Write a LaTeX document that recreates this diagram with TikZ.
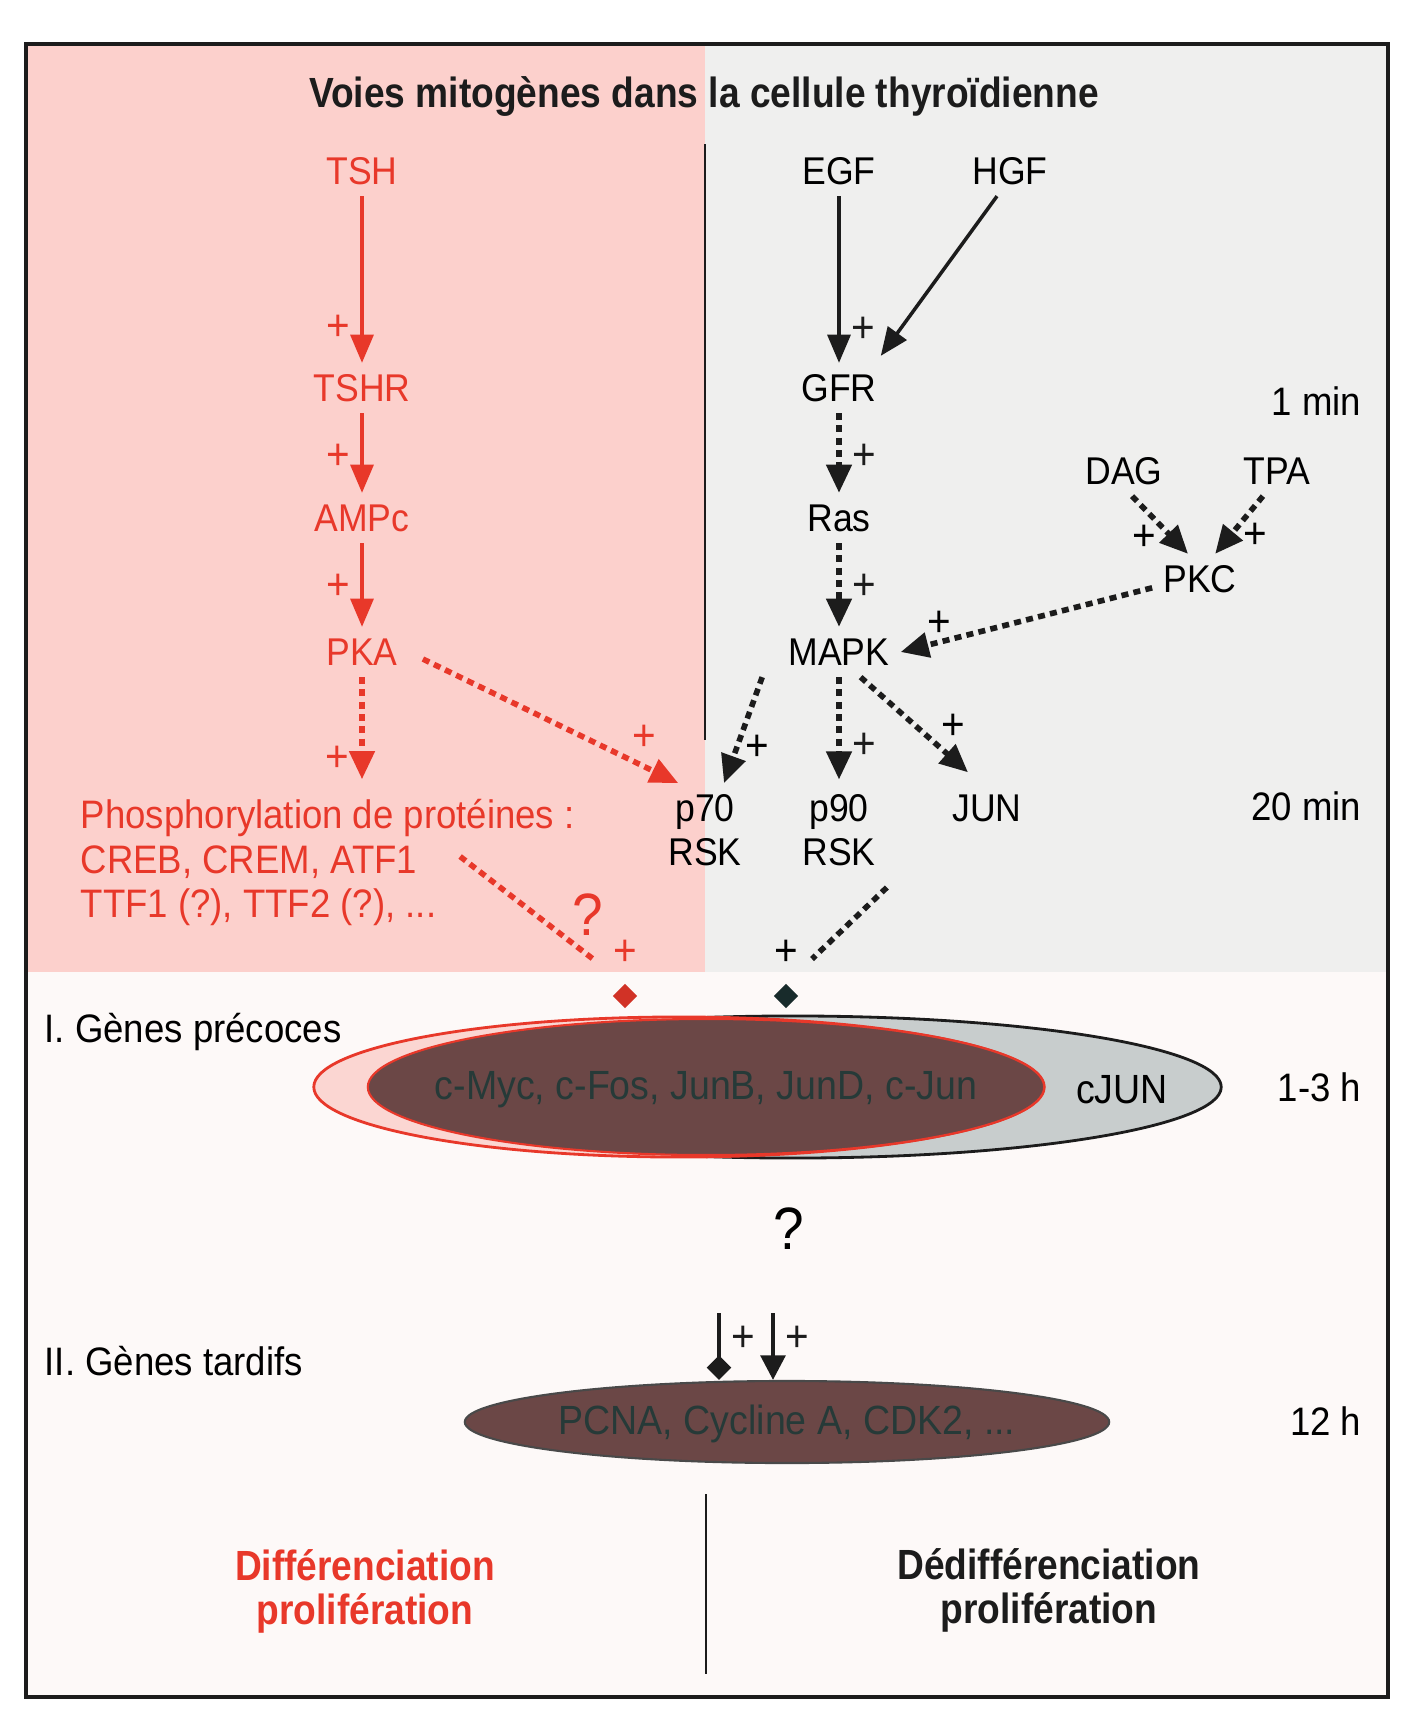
\documentclass[tikz,border=0pt]{standalone}
\usepackage{fontspec}
\setmainfont{Liberation Sans}[FakeStretch=0.92]
\newfontfamily\condsans[FakeStretch=0.88]{Liberation Sans}
\usetikzlibrary{arrows.meta, shapes.geometric, positioning}
\definecolor{thyrRed}  {RGB}{232, 56, 42}
\definecolor{thyrPink} {RGB}{252,208,204}
\definecolor{thyrGrey} {RGB}{239,239,238}
\definecolor{thyrPaper}{RGB}{253,249,248}
\definecolor{geneBrown}{RGB}{107, 71, 70}
\definecolor{geneInk}  {RGB}{ 38, 58, 56}
\definecolor{geneGrey} {RGB}{200,205,205}
\definecolor{genePink} {RGB}{251,214,210}
\definecolor{inkBlack} {RGB}{ 28, 28, 28}

\begin{document}
\begin{tikzpicture}[
  x=0.01cm, y=-0.01cm,
  %% Molecule names
  mol/.style={font=\fontsize{11}{12.5}\selectfont, inner sep=3pt,
    text height=7.9pt, text depth=0pt},
  %% Two-line kinase names
  kin/.style={font=\fontsize{11}{12.5}\selectfont, inner sep=3pt, align=center},
  %% Free text (sections, times, phosphorylation)
  lbl/.style={font=\fontsize{11.3}{12.5}\selectfont, inner sep=0pt,
    text height=7.9pt, text depth=0pt},
  %% Plus sign on arrows
  pls/.style={font=\fontsize{12.5}{13}\selectfont, inner sep=1pt},
  %% Question mark
  qst/.style={font=\fontsize{17}{18}\selectfont, inner sep=0pt},
  %% Solid activation arrow
  sarr/.style={-{Triangle[length=8pt,width=6.5pt]}, line width=1pt},
  %% Dotted activation arrow
  darr/.style={-{Triangle[length=8pt,width=7pt]}, line width=1.6pt,
    dash pattern=on 2pt off 1.5pt},
  %% Dotted link without head
  dlink/.style={line width=1.6pt, dash pattern=on 2pt off 1.5pt},
  %% Diamond marker
  dmd/.style={diamond, minimum size=0.25cm, inner sep=0pt},
  %% Bold condensed heading
  hd/.style={font=\condsans\bfseries\fontsize{12}{12.5}\selectfont, align=center},
  %% Gene ellipse
  gene/.style={ellipse, inner sep=0pt},
  %% Gene names
  gtxt/.style={font=\fontsize{11.6}{12.5}\selectfont, inner sep=0pt},
]

%% ── Columns ────────────────────────────────────────────────────────────────
\def\xL{362}   % TSH pathway
\def\xR{839}   % growth factor pathway

\useasboundingbox (0,0) rectangle (1420,1733);

%% ── PANELS ─────────────────────────────────────────────────────────────────
\fill[white] (0,0) rectangle (1420,1733);
\fill[thyrPaper] (26,972) rectangle (1388,1697);
\fill[thyrPink] (26,44) rectangle (705,972);
\fill[thyrGrey] (705,44) rectangle (1388,972);
\draw[inkBlack, line width=0.9pt] (26,44) rectangle (1388,1697);
\draw[inkBlack, line width=0.6pt] (705,144) -- (705,740);
\draw[inkBlack, line width=0.6pt] (706,1494) -- (706,1674);

%% ── TITLE ──────────────────────────────────────────────────────────────────
\node[hd, text=inkBlack] (title) at (704,96)
  {Voies mitogènes dans la cellule thyroïdienne};

%% ── TSH PATHWAY (red) ──────────────────────────────────────────────────────
\node[mol, text=thyrRed] (tsh)  at (\xL,171) {TSH};
\node[mol, text=thyrRed] (tshr) at (\xL,388) {TSHR};
\node[mol, text=thyrRed] (ampc) at (\xL,518) {AMPc};
\node[mol, text=thyrRed] (pka)  at (\xL,652) {PKA};
\node[lbl, text=thyrRed, anchor=west] (phos) at (80,815)
  {Phosphorylation de protéines :};
\node[lbl, text=thyrRed, anchor=west] (creb) at (80,860) {CREB, CREM, ATF1};
\node[lbl, text=thyrRed, anchor=west] (ttf)  at (80,904) {TTF1 (?), TTF2 (?), ...};

\draw[sarr, thyrRed] (tsh.south) -- (tshr.north)
  node[pls, pos=.79, left=2pt] (plTshr) {+};
\draw[sarr, thyrRed] (tshr.south) -- (ampc.north)
  node[pls, pos=.55, left=2pt] (plAmpc) {+};
\draw[sarr, thyrRed] (ampc.south) -- (pka.north)
  node[pls, pos=.52, left=2pt] (plPka) {+};
\draw[darr, thyrRed, shorten >=6pt] (pka.south) -- (pka.south |- phos.north)
  node[pls, pos=.66, left=2pt] (plPhos) {+};

%% ── GROWTH FACTOR PATHWAY (black) ──────────────────────────────────────────
\node[mol] (egf)  at (\xR,171)  {EGF};
\node[mol] (hgf)  at (1010,171) {HGF};
\node[mol] (gfr)  at (\xR,388)  {GFR};
\node[mol] (ras)  at (\xR,518)  {Ras};
\node[mol] (mapk) at (\xR,652)  {MAPK};
\node[mol] (dag)  at (1124,471) {DAG};
\node[mol] (tpa)  at (1277,471) {TPA};
\node[mol] (pkc)  at (1200,579) {PKC};
\node[kin] (p70)  at (705,830)  {p70\\RSK};
\node[kin] (p90)  at (\xR,830)  {p90\\RSK};
\node[mol] (jun)  at (987,808)  {JUN};

\draw[sarr, inkBlack] (egf.south) -- (gfr.north)
  node[pls, pos=.8, right=2pt] (plGfr) {+};
\draw[sarr, inkBlack] ([xshift=-3.7pt]hgf.south)
  -- ([xshift=-2pt,yshift=2pt]gfr.north east);
\draw[darr, inkBlack] (gfr.south) -- (ras.north)
  node[pls, pos=.55, right=2pt] (plRas) {+};
\draw[darr, inkBlack] (ras.south) -- (mapk.north)
  node[pls, pos=.52, right=2pt] (plMapk) {+};
\draw[darr, inkBlack] ([xshift=2.3pt]dag.south) -- ([xshift=-3.4pt]pkc.north);
\draw[darr, inkBlack] ([xshift=-4pt]tpa.south) -- ([xshift=4.3pt]pkc.north);
\draw[darr, inkBlack] ([yshift=-2.5pt]pkc.west) -- (mapk.east);
\draw[darr, inkBlack] ([xshift=-4.3pt]mapk.south west) -- ([xshift=5.4pt]p70.north);
\draw[darr, inkBlack, shorten >=1pt] (mapk.south) -- (p90.north)
  node[pls, pos=.65, right=2pt] (plP90) {+};
\draw[darr, inkBlack] ([xshift=-11.4pt]mapk.south east)
  -- ([xshift=-5.4pt,yshift=3pt]jun.north);
\draw[darr, thyrRed] ([xshift=4pt,yshift=-2pt]pka.east)
  -- ([xshift=6pt]p70.north west);

%% plus signs on the slanted arrows
\node[pls] (plDag)  at (1144,538) {+};
\node[pls] (plTpa)  at (1255,536) {+};
\node[pls] (plPkc)  at (939,624)  {+};
\node[pls] (plP70)  at (757,748)  {+};
\node[pls] (plJun)  at (953,727)  {+};
\node[pls, text=thyrRed] (plRsk) at (644,738) {+};

%% ── TIMES ──────────────────────────────────────────────────────────────────
\node[lbl, anchor=east] (t1)  at (1362,402)  {1 min};
\node[lbl, anchor=east] (t2)  at (1362,807)  {20 min};
\node[lbl, anchor=east] (t3)  at (1362,1088) {1-3 h};
\node[lbl, anchor=east] (t4)  at (1362,1422) {12 h};

%% ── INPUTS TO EARLY GENES ──────────────────────────────────────────────────
\node[dmd, fill=thyrRed!90!black] (rdia) at (625,996) {};
\node[dmd, fill=inkBlack!85!teal] (bdia) at (786,996) {};
\node[pls, text=thyrRed] (plRed) at (625,953) {+};
\node[pls] (plBlack) at (786,953) {+};
\node[qst, text=thyrRed] (qRed) at (588,915) {?};
\coordinate (redEnd) at (593,959);
\coordinate (blackEnd) at (812,959);
\draw[dlink, thyrRed] ([xshift=12pt,yshift=1pt]creb.east) -- (redEnd);
\draw[dlink, inkBlack] ([yshift=-3pt]p90.south east) -- (blackEnd);

%% ── EARLY GENES ────────────────────────────────────────────────────────────
\node[lbl, anchor=west] (early) at (44,1029) {I. Gènes précoces};
\node[gene, fill=geneGrey, draw=inkBlack, line width=0.8pt,
      minimum width=8.56cm, minimum height=1.42cm] (egGrey) at (793,1087) {};
\node[gene, fill=genePink, draw=thyrRed, line width=0.8pt,
      minimum width=7.30cm, minimum height=1.40cm] (egPink) at (679,1087) {};
\node[gene, fill=geneBrown, draw=thyrRed, line width=0.6pt,
      minimum width=6.76cm, minimum height=1.36cm] (egBrown) at (706,1087) {};
\node[gtxt, text=geneInk] (mycTxt) at (706,1090)
  {c-Myc, c-Fos, JunB, JunD, c-Jun};
\node[gtxt] (cjun) at (1122,1090) {cJUN};

\node[qst] (qBlack) at (789,1229) {?};

%% ── LATE GENES ─────────────────────────────────────────────────────────────
\node[lbl, anchor=west] (late) at (44,1362) {II. Gènes tardifs};
\node[gene, fill=geneBrown, draw=inkBlack!80, line width=0.6pt,
      minimum width=6.44cm, minimum height=0.82cm] (lgBrown) at (787,1422) {};
\node[gtxt, text=geneInk] (pcnaTxt) at (787,1424) {PCNA, Cycline A, CDK2, ...};

\coordinate (qa) at (719,1313);
\coordinate (qb) at (773,1313);
\draw[-{Diamond[length=7pt,width=7pt]}, line width=1.2pt, inkBlack]
  (qa) -- (qa |- lgBrown.north)
  node[pls, pos=.38, right=2pt] (plLateA) {+};
\draw[-{Triangle[length=7pt,width=7pt]}, line width=1.2pt, inkBlack]
  (qb) -- (qb |- lgBrown.north)
  node[pls, pos=.38, right=2pt] (plLateB) {+};

%% ── OUTCOMES ───────────────────────────────────────────────────────────────
\node[hd, text=thyrRed] (diff) at (365,1591) {Différenciation\\prolifération};
\node[hd, text=inkBlack] (dediff) at (1049,1590) {Dédifférenciation\\prolifération};

\end{tikzpicture}
\end{document}
